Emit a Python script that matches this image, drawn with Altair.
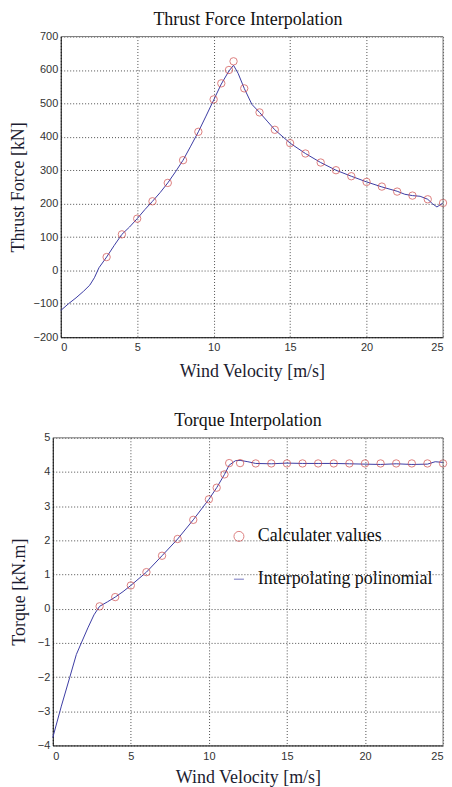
import altair as alt
import pandas as pd

# ---- Axis domains / ticks ----
x_domain = [0, 25]
x_ticks = [0, 5, 10, 15, 20, 25]
thrust_domain = [-200, 700]
thrust_ticks = list(range(-200, 701, 100))
torque_domain = [-4, 5]
torque_ticks = list(range(-4, 6))

# ---- Thrust force data ----
thrust_v = [3, 4, 5, 6, 7, 8, 9, 10, 10.5, 11, 11.3, 12, 13, 14, 15, 16, 17, 18, 19, 20, 21, 22, 23, 24, 25]
thrust_f = [40, 108, 155, 207, 262, 330, 415, 512, 560, 600, 626, 545, 473, 421, 381, 350, 323, 300, 282, 265, 251, 236, 224, 213, 202]

thrust_line_v = [0, 0.5, 1, 1.5, 1.9, 2.2, 2.5, 3, 3.5, 4, 4.5, 5, 5.5, 6, 6.5, 7, 7.5, 8, 8.5, 9, 9.5, 10, 10.5, 11,
                 11.3, 11.6, 12, 12.5, 13, 13.5, 14, 15, 16, 17, 18, 19, 20, 21, 22, 22.5, 23, 23.5, 24, 24.3, 24.6, 25]
thrust_line_f = [-120, -100, -82, -62, -44, -22, 8, 40, 75, 108, 130, 155, 182, 207, 233, 262, 295, 330, 372, 415, 462, 510, 558, 597,
                 614, 590, 545, 497, 473, 447, 421, 381, 350, 323, 300, 282, 265, 250, 237, 228, 224, 222, 213, 200, 190, 202]

# ---- Torque data ----
torque_v = [3, 4, 5, 6, 7, 8, 9, 10, 10.5, 11, 11.3, 12, 13, 14, 15, 16, 17, 18, 19, 20, 21, 22, 23, 24, 25]
torque_t = [0.07, 0.34, 0.68, 1.07, 1.55, 2.04, 2.6, 3.2, 3.54, 3.93, 4.26, 4.26, 4.25, 4.25, 4.25, 4.25, 4.25, 4.25, 4.25, 4.25, 4.25, 4.25, 4.25, 4.25, 4.25]

torque_line_v = [0, 0.55, 1.08, 1.51, 1.83, 2.25, 2.64, 3, 3.5, 4, 4.5, 5, 6, 7, 8, 9, 10, 10.5, 11, 11.3, 11.7, 12, 12.5, 13,
                 14, 15, 16, 17, 18, 19, 20, 21, 22, 23, 24, 24.5, 25]
torque_line_t = [-3.77, -2.85, -2.02, -1.34, -1.0, -0.56, -0.18, 0.07, 0.2, 0.34, 0.5, 0.68, 1.07, 1.55, 2.04, 2.6, 3.2, 3.54, 3.93, 4.2, 4.33, 4.34, 4.3, 4.25,
                 4.24, 4.26, 4.25, 4.25, 4.25, 4.24, 4.23, 4.22, 4.24, 4.22, 4.23, 4.3, 4.28]

series_names = ["Calculater values", "Interpolating polinomial"]
series_colors = ["#cf4a4a", "#3b3ba3"]

pts1 = pd.DataFrame({"v": thrust_v, "y": thrust_f})
line1 = pd.DataFrame({"v": thrust_line_v, "y": thrust_line_f})
pts2 = pd.DataFrame({"v": torque_v, "y": torque_t, "s": series_names[0]})
line2 = pd.DataFrame({"v": torque_line_v, "y": torque_line_t, "s": series_names[1]})

SERIF = "Liberation Serif"
SANS = "Liberation Sans"
FRAME = "#777"
PLOT_W = 392


def frame_layers(xs, ys, xax, yax, yd):
    top_rule = alt.Chart(pd.DataFrame({"a": [x_domain[0]], "b": [x_domain[1]], "c": [yd[1]]})).mark_rule(
        color=FRAME, strokeWidth=1).encode(
        x=alt.X("a:Q", scale=xs, axis=xax), x2="b:Q", y=alt.Y("c:Q", scale=ys, axis=yax))
    right_rule = alt.Chart(pd.DataFrame({"a": [x_domain[1]], "c": [yd[0]], "d": [yd[1]]})).mark_rule(
        color=FRAME, strokeWidth=1).encode(
        x=alt.X("a:Q", scale=xs, axis=xax), y=alt.Y("c:Q", scale=ys, axis=yax), y2="d:Q")
    return [top_rule, right_rule]


# ---- Top chart (plot area starts 8 px right of the shared column origin) ----
xs1 = alt.Scale(domain=x_domain, nice=False, range=[8, PLOT_W])
ys1 = alt.Scale(domain=thrust_domain, nice=False)
xax1 = alt.Axis(title="Wind Velocity [m/s]", values=x_ticks, titlePadding=10, labelPadding=4)
yax1 = alt.Axis(title="Thrust Force [kN]", values=thrust_ticks, titlePadding=6, offset=-8)

top_line = alt.Chart(line1).mark_line(color=series_colors[1], strokeWidth=1).encode(
    x=alt.X("v:Q", scale=xs1, axis=xax1), y=alt.Y("y:Q", scale=ys1, axis=yax1))
top_pts = alt.Chart(pts1).mark_point(shape="circle", filled=False, color=series_colors[0], size=55, strokeWidth=1).encode(
    x=alt.X("v:Q", scale=xs1, axis=xax1), y=alt.Y("y:Q", scale=ys1, axis=yax1))
top = alt.layer(top_line, top_pts, *frame_layers(xs1, ys1, xax1, yax1, thrust_domain)).properties(
    width=PLOT_W, height=302, title="Thrust Force Interpolation")

# ---- Bottom chart ----
xs2 = alt.Scale(domain=x_domain, nice=False)
ys2 = alt.Scale(domain=torque_domain, nice=False)
xax2 = alt.Axis(title="Wind Velocity [m/s]", values=x_ticks, titlePadding=7, labelPadding=5)
yax2 = alt.Axis(title="Torque [kN.m]", values=torque_ticks, titlePadding=9)

leg = dict(title=None, orient="none", legendX=178, legendY=90,
           labelFont=SERIF, labelFontSize=18, labelColor="#111", labelLimit=400,
           labelOffset=10, rowPadding=25, padding=0,
           symbolStrokeWidth=1, symbolSize=100)
color_enc = alt.Color("s:N", scale=alt.Scale(domain=series_names, range=series_colors), legend=alt.Legend(**leg))
shape_enc = alt.Shape("s:N", scale=alt.Scale(domain=series_names, range=["circle", "stroke"]), legend=alt.Legend(**leg))

bot_line = alt.Chart(line2).mark_line(strokeWidth=1).encode(
    x=alt.X("v:Q", scale=xs2, axis=xax2), y=alt.Y("y:Q", scale=ys2, axis=yax2), color=color_enc)
bot_pts = alt.Chart(pts2).mark_point(filled=False, size=55, strokeWidth=1).encode(
    x=alt.X("v:Q", scale=xs2, axis=xax2), y=alt.Y("y:Q", scale=ys2, axis=yax2), color=color_enc, shape=shape_enc)
bottom = alt.layer(bot_line, bot_pts, *frame_layers(xs2, ys2, xax2, yax2, torque_domain)).properties(
    width=PLOT_W, height=309, title="Torque Interpolation")

chart = alt.vconcat(top, bottom, spacing=32).resolve_scale(
    color="independent", shape="independent"
).properties(
    padding={"left": 9, "top": 9, "right": 3, "bottom": 0}
).configure(
    background="white"
).configure_view(
    strokeWidth=0
).configure_title(
    font=SERIF, fontSize=18, fontWeight="normal", color="#111", offset=2, anchor="middle"
).configure_axis(
    labelFont=SANS, labelFontSize=11, labelColor="#333", labelPadding=3,
    titleFont=SERIF, titleFontSize=18, titleFontWeight="normal", titleColor="#1c1c30",
    grid=True, gridColor="#222", gridDash=[1, 2], gridWidth=1, gridOpacity=0.8,
    domain=True, domainColor="#000", domainWidth=1, ticks=False
)

chart.save("out.html", embed_options={"renderer": "svg", "actions": False})
